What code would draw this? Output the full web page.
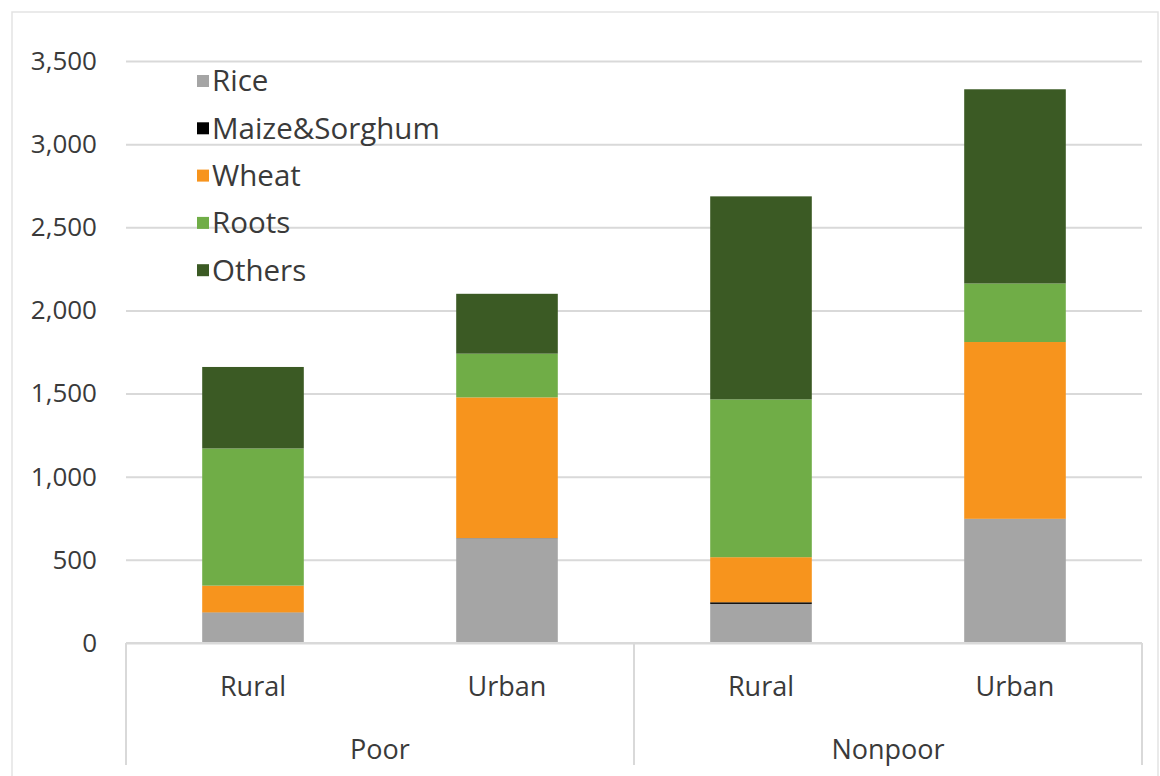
<!DOCTYPE html>
<html>
<head>
<meta charset="utf-8">
<script src="https://cdn.jsdelivr.net/npm/d3@7"></script>
<style>
  body { margin: 0; background: #fff; }
  text { font-family: "Open Sans", sans-serif; fill: #3a3a3a; }
</style>
</head>
<body>
<script>
// data
const categories = ['Rural', 'Urban', 'Rural', 'Urban']
const groups = ['Poor', 'Nonpoor']
const seriesNames = ['Rice', 'Maize&Sorghum', 'Wheat', 'Roots', 'Others']
const rice = [183, 630, 235, 746]
const maize = [1, 1, 10, 1]
const wheat = [161, 846, 271, 1063]
const roots = [825, 263, 949, 352]
const others = [490, 360, 1221, 1168]
const yTicks = [0, 500, 1000, 1500, 2000, 2500, 3000, 3500]
const colors = ['#a5a5a5', '#000000', '#f7941d', '#70ad47', '#3b5a24']

const width = 1160
const height = 776
const margin = { top: 61, right: 18, bottom: 133, left: 126 }

const table = categories.map((c, i) => ({
  i,
  Rice: rice[i],
  'Maize&Sorghum': maize[i],
  Wheat: wheat[i],
  Roots: roots[i],
  Others: others[i],
}))
const stacked = d3.stack().keys(seriesNames)(table)

const x = d3
  .scaleBand()
  .domain(d3.range(categories.length))
  .range([margin.left, width - margin.right])
  .paddingInner(0.6)
  .paddingOuter(0.3)

const y = d3
  .scaleLinear()
  .domain([0, 3500])
  .range([height - margin.bottom, margin.top])

const svg = d3
  .select('body')
  .append('svg')
  .attr('width', width)
  .attr('height', height)

// outer chart frame
svg
  .append('rect')
  .attr('x', 12)
  .attr('y', 12)
  .attr('width', width - 14)
  .attr('height', height)
  .attr('fill', 'none')
  .attr('stroke', '#e3e3e3')
  .attr('stroke-width', 1.5)

const yAxis = g =>
  g
    .attr('transform', `translate(${margin.left},0)`)
    .call(
      d3
        .axisLeft(y)
        .tickValues(yTicks)
        .tickFormat(d3.format(','))
        .tickSize(-(width - margin.left - margin.right))
        .tickPadding(29),
    )
    .call(g => g.select('.domain').remove())
    .call(g =>
      g
        .selectAll('.tick line')
        .attr('stroke', '#d9d9d9')
        .attr('stroke-width', 2),
    )
    .call(g =>
      g
        .selectAll('.tick text')
        .attr('font-size', 26)
        .attr('font-family', '"Open Sans", sans-serif')
        .attr('fill', '#3a3a3a'),
    )

svg.append('g').call(yAxis)

// bars
svg
  .append('g')
  .selectAll('g')
  .data(stacked)
  .join('g')
  .attr('fill', (d, i) => colors[i])
  .selectAll('rect')
  .data(d => d)
  .join('rect')
  .attr('x', d => x(d.data.i))
  .attr('y', d => y(d[1]))
  .attr('height', d => y(d[0]) - y(d[1]))
  .attr('width', x.bandwidth())

// category axis frame: baseline plus group dividers
const base = y(0)
const axisG = svg.append('g').attr('stroke', '#d9d9d9').attr('stroke-width', 2)
axisG
  .append('line')
  .attr('x1', margin.left)
  .attr('x2', width - margin.right)
  .attr('y1', base)
  .attr('y2', base)
const midEdge = (x(1) + x.bandwidth() + x(2)) / 2
;[margin.left, midEdge, width - margin.right].forEach(ex => {
  axisG
    .append('line')
    .attr('x1', ex)
    .attr('x2', ex)
    .attr('y1', base)
    .attr('y2', base + 122)
})

svg
  .append('g')
  .selectAll('text')
  .data(categories)
  .join('text')
  .attr('x', (d, i) => x(i) + x.bandwidth() / 2)
  .attr('y', base + 53)
  .attr('text-anchor', 'middle')
  .attr('font-size', 27)
  .text(d => d)

svg
  .append('g')
  .selectAll('text')
  .data(groups)
  .join('text')
  .attr('x', (d, i) => (x(i * 2) + x(i * 2 + 1) + x.bandwidth()) / 2)
  .attr('y', base + 116)
  .attr('text-anchor', 'middle')
  .attr('font-size', 27)
  .text(d => d)

// legend, drawn over the gridlines with no background
const legend = svg
  .append('g')
  .selectAll('g')
  .data(seriesNames)
  .join('g')
  .attr('transform', (d, i) => `translate(197,${81 + i * 47.3})`)

legend
  .append('rect')
  .attr('x', 0)
  .attr('y', -6)
  .attr('width', 12)
  .attr('height', 12)
  .attr('fill', (d, i) => colors[i])

legend
  .append('text')
  .attr('x', 15)
  .attr('dy', '0.35em')
  .attr('font-size', 29.5)
  .text(d => d)
</script>
</body>
</html>
